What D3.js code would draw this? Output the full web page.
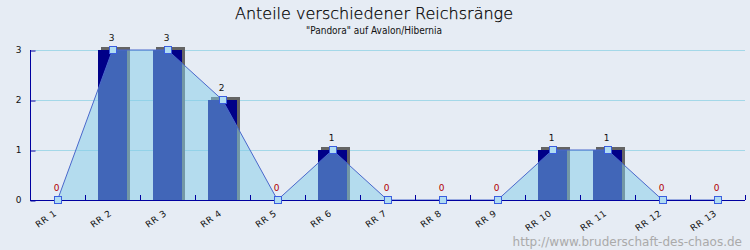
<!DOCTYPE html>
<html><head><meta charset="utf-8">
<script src="https://cdn.jsdelivr.net/npm/d3@7/dist/d3.min.js"></script>
<style>body{margin:0;background:#e6ecf4;}svg{display:block;}</style>
</head><body>
<script>
const categories = ["RR 1","RR 2","RR 3","RR 4","RR 5","RR 6","RR 7","RR 8","RR 9","RR 10","RR 11","RR 12","RR 13"];
const values = [0,3,3,2,0,1,0,0,0,1,1,0,0];
const yTicks = [0,1,2,3];
const title = "Anteile verschiedener Reichsränge";
const subtitle = "\"Pandora\" auf Avalon/Hibernia";
const watermark = "http://www.bruderschaft-des-chaos.de";

const W = 750, H = 250;
const svg = d3.select("body").append("svg").attr("width", W).attr("height", H);
svg.append("rect").attr("width", W).attr("height", H).attr("fill", "#e6ecf4");

const x = d3.scaleBand().domain(categories).range([30, 745]).padding(0);
const y = d3.scaleLinear().domain([0, 3]).range([200, 50]);
const bw = x.bandwidth();
const cx = c => x(c) + bw / 2;
const barW = 29;
const data = categories.map((c, i) => ({c, v: values[i]}));

// title
svg.append("text").attr("x", 374).attr("y", 18.5).attr("text-anchor", "middle")
  .attr("font-family", "DejaVu Sans").attr("font-weight", 200).attr("font-size", 16).attr("fill", "#000")
  .attr("stroke", "#000").attr("stroke-width", 0.25)
  .text(title);
svg.append("text").attr("x", 374).attr("y", 34).attr("text-anchor", "middle")
  .attr("font-family", "DejaVu Sans Condensed, DejaVu Sans").attr("font-stretch", "condensed").attr("font-size", 10).attr("fill", "#111")
  .text(subtitle);

// grid
svg.append("g").selectAll("line").data(yTicks.filter(t => t > 0)).join("line")
  .attr("x1", 35).attr("x2", 745).attr("y1", d => y(d) + 0.5).attr("y2", d => y(d) + 0.5)
  .attr("stroke", "#a4d8e8").attr("stroke-width", 1);

// bars: shadow + front
const bars = svg.append("g");
bars.selectAll("rect.sh").data(data.filter(d => d.v > 0)).join("rect").attr("class", "sh")
  .attr("x", d => cx(d.c) - barW / 2 + 3).attr("y", d => y(d.v) - 3)
  .attr("width", barW).attr("height", d => y(0) - y(d.v) + 3)
  .attr("fill", "#646464");
bars.selectAll("rect.fr").data(data.filter(d => d.v > 0)).join("rect").attr("class", "fr")
  .attr("x", d => cx(d.c) - barW / 2).attr("y", d => y(d.v))
  .attr("width", barW).attr("height", d => y(0) - y(d.v))
  .attr("fill", "#000088");

// area
const area = d3.area().x(d => cx(d.c)).y0(y(0)).y1(d => y(d.v));
svg.append("path").datum(data).attr("d", area).attr("fill", "rgb(130,204,232)").attr("fill-opacity", 0.5);
const line = d3.line().x(d => cx(d.c)).y(d => y(d.v));
svg.append("path").datum(data).attr("d", line).attr("fill", "none").attr("stroke", "#4a68cc").attr("stroke-width", 1);

// axes
const yAxis = svg.append("g").attr("transform", "translate(30.5,0)")
  .call(d3.axisLeft(y).tickValues(yTicks).tickSize(-5).tickPadding(9).tickFormat(d3.format("d")));
yAxis.select(".domain").attr("stroke", "#0000a0").attr("d", "M0,50V200.5");
yAxis.selectAll(".tick line").attr("stroke", "#0000a0").attr("transform", "translate(0,0.5)");
yAxis.selectAll("text").attr("font-family", "DejaVu Sans").attr("font-size", 9).attr("fill", "#111");

const xAxis = svg.append("g").attr("transform", "translate(0,200.5)")
  .call(d3.axisBottom(x).tickSize(0).tickPadding(0));
xAxis.select(".domain").attr("stroke", "#0000a0").attr("d", "M30,0H745");
xAxis.selectAll(".tick text").attr("font-family", "DejaVu Sans").attr("font-size", 9).attr("fill", "#111")
  .attr("text-anchor", "end").attr("dy", 0).attr("letter-spacing", 0.6)
  .attr("transform", "translate(0,14) rotate(-35)");
svg.append("g").selectAll("line").data(categories).join("line")
  .attr("x1", c => Math.round(x(c) + bw) + 0.5).attr("x2", c => Math.round(x(c) + bw) + 0.5)
  .attr("y1", 195).attr("y2", 200).attr("stroke", "#0000a0");

// points
svg.append("g").selectAll("rect").data(data).join("rect")
  .attr("x", d => Math.round(cx(d.c)) - 3.5).attr("y", d => y(d.v) - 3.5)
  .attr("width", 7).attr("height", 7)
  .attr("fill", "#b0dcf2").attr("stroke", "#3a5ee0").attr("stroke-width", 1);

// value labels
svg.append("g").selectAll("text").data(data).join("text")
  .attr("x", d => cx(d.c) - 1).attr("y", d => y(d.v) - 9).attr("text-anchor", "middle")
  .attr("font-family", "DejaVu Sans").attr("font-size", 9)
  .attr("fill", d => d.v === 0 ? "#b00000" : "#111")
  .text(d => d.v);

// watermark
svg.append("text").attr("x", 742).attr("y", 246).attr("text-anchor", "end")
  .attr("font-family", "DejaVu Sans").attr("font-size", 12).attr("fill", "#aaaaaa")
  .text(watermark);
</script>
</body></html>
